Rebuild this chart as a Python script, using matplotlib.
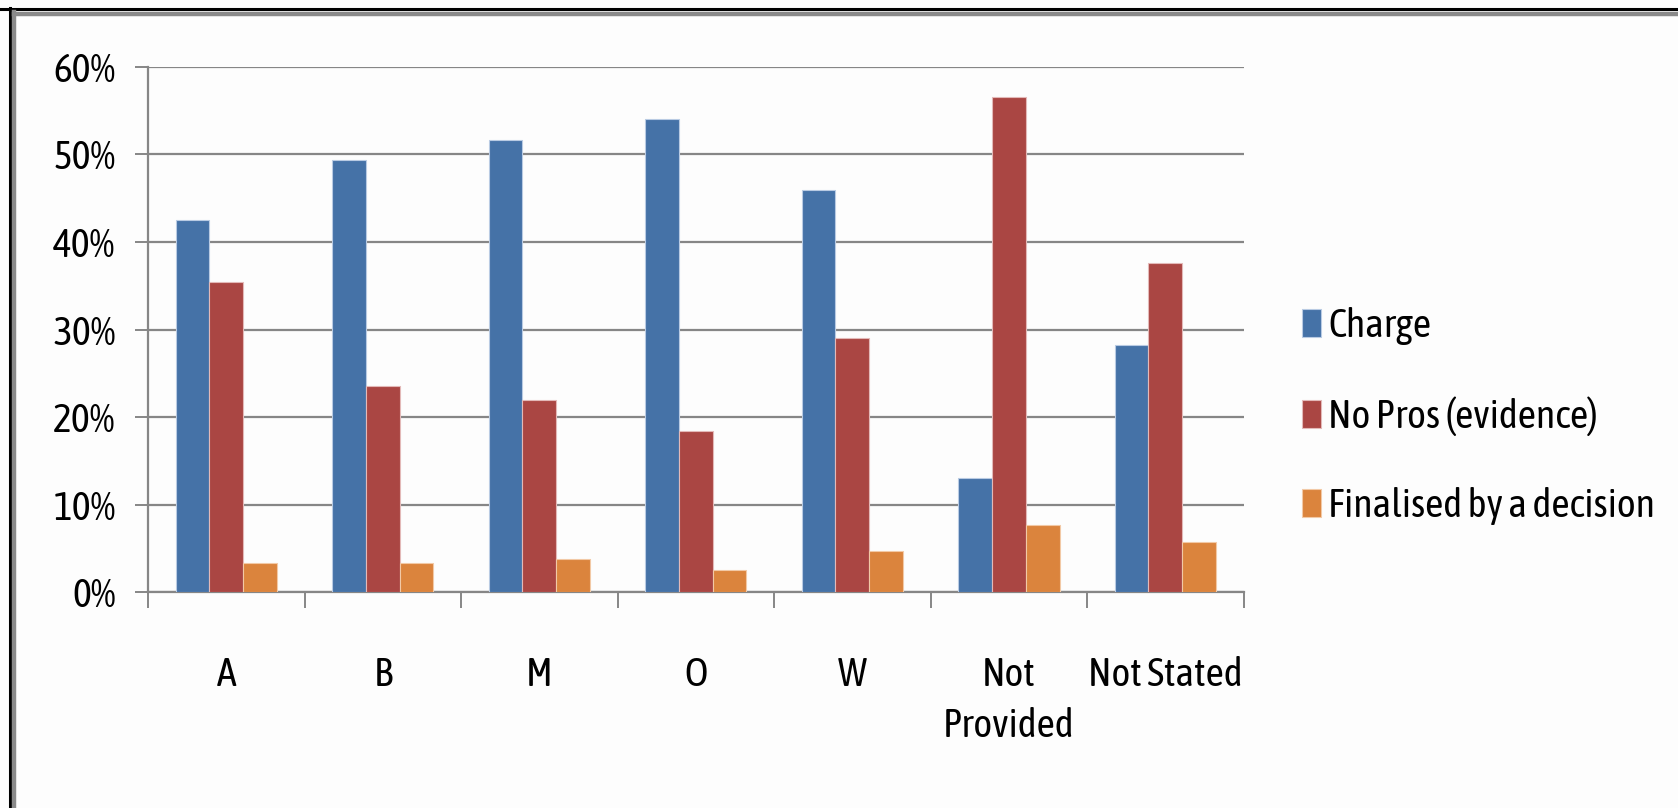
import matplotlib
matplotlib.use("Agg")
import matplotlib.pyplot as plt
from matplotlib import font_manager as fm
from matplotlib.font_manager import FontProperties
from matplotlib.textpath import TextPath
from matplotlib.lines import Line2D
from matplotlib.ticker import FuncFormatter, FixedLocator
import numpy as np

categories = ["A", "B", "M", "O", "W", "Not\nProvided", "Not Stated"]
charge = [0.425, 0.494, 0.516, 0.541, 0.459, 0.130, 0.282]
no_pros = [0.354, 0.235, 0.219, 0.184, 0.290, 0.566, 0.376]
finalised = [0.033, 0.033, 0.038, 0.025, 0.047, 0.077, 0.057]
series_names = ["Charge", "No Pros (evidence)", "Finalised by a decision"]
y_ticks = [0.0, 0.1, 0.2, 0.3, 0.4, 0.5, 0.6]

# choose a narrow face whose proportions suit tall, slim lettering
prefs = ["Fira Sans Extra Condensed", "Fira Sans Condensed", "PT Sans Narrow",
         "Open Sans Condensed", "Roboto Condensed", "Encode Sans Condensed",
         "Archivo Narrow", "Asap Condensed", "Ubuntu Condensed",
         "Barlow Semi Condensed", "Liberation Sans"]
avail = {f.name for f in fm.fontManager.ttflist}
target_w, target_cap = 322.0, 28.0


def metrics(name):
    prop = FontProperties(family=name)
    w = TextPath((0, 0), series_names[2], size=100, prop=prop).get_extents().width
    cap = TextPath((0, 0), "H", size=100, prop=prop).get_extents().height
    return w, cap


best = None
for name in prefs:
    if name not in avail:
        continue
    w, cap = metrics(name)
    err = abs(np.log((w / cap) / (target_w / target_cap)))
    if best is None or err < best[0]:
        best = (err, name, w, cap)
_, face, w100, cap100 = best
plt.rcParams["font.family"] = [face, "DejaVu Sans"]

# font size (pt at 100 dpi) balancing the width and cap height goals
s_w = target_w / w100 * 100
s_c = target_cap / cap100 * 100
fpx = np.sqrt(s_w * s_c)
fs = fpx * 72 / 100
lp_h = TextPath((0, 0), "lp", size=fpx, prop=FontProperties(family=face)).get_extents().height
line_sp = 54.6 / (lp_h * 1.0)

colors = ["#4572A7", "#AA4643", "#DB843D"]
edges = ["#b9cbe3", "#e3b9b8", "#f2c9a6"]
grid_col = "#868686"

fig = plt.figure(figsize=(16.78, 8.08), dpi=100, facecolor="#fdfdfd")
ax = fig.add_axes([0.0882, 0.2673, 0.6529, 0.6498])
ax.set_facecolor("#fdfdfd")

x = np.arange(len(categories))
w = 0.216
for i, (vals, name) in enumerate(zip([charge, no_pros, finalised], series_names)):
    ax.bar(x + (i - 1) * w, vals, width=w, color=colors[i], edgecolor=edges[i],
           linewidth=0.8, label=name, zorder=3)

ax.set_xlim(-0.5, len(categories) - 0.5)
ax.set_ylim(0, 0.6)
ax.set_yticks(y_ticks)
ax.yaxis.set_major_formatter(FuncFormatter(lambda v, p: f"{v*100:.0f}%"))
ax.yaxis.grid(True, color=grid_col, linewidth=1.6, zorder=0)
ax.set_axisbelow(True)

ax.set_xticks(x)
ax.set_xticklabels(categories, linespacing=line_sp)
ax.xaxis.set_minor_locator(FixedLocator(np.arange(-0.5, len(categories), 1.0)))
ax.tick_params(axis="x", which="major", length=0, pad=46, labelsize=fs)
ax.tick_params(axis="x", which="minor", length=11.5, width=1.4, color=grid_col, direction="out")
ax.tick_params(axis="y", length=9.4, width=1.4, color=grid_col, pad=14, labelsize=fs, direction="out")

for s in ["top", "right"]:
    ax.spines[s].set_visible(False)
for s in ["left", "bottom"]:
    ax.spines[s].set_color(grid_col)
    ax.spines[s].set_linewidth(1.6)

fig.legend(loc="center left", bbox_to_anchor=(0.776, 0.485), frameon=False,
           fontsize=fs, handlelength=19 / fpx, handleheight=28 / fpx,
           handletextpad=7 / fpx, labelspacing=(91 - fpx) / fpx, borderpad=0, borderaxespad=0)

# frame lines along top and left edges
fig.add_artist(Line2D([0, 1], [1 - 9 / 808, 1 - 9 / 808], transform=fig.transFigure,
                      color="black", linewidth=2.2))
fig.add_artist(Line2D([9.5 / 1678, 9.5 / 1678], [0, 1 - 8 / 808], transform=fig.transFigure,
                      color="black", linewidth=2.2))
fig.add_artist(Line2D([13.5 / 1678, 1], [1 - 13.5 / 808, 1 - 13.5 / 808], transform=fig.transFigure,
                      color="#8a8a8a", linewidth=3.2))
fig.add_artist(Line2D([13.5 / 1678, 13.5 / 1678], [0, 1 - 12 / 808], transform=fig.transFigure,
                      color="#8a8a8a", linewidth=3.2))

fig.savefig("out.png", dpi=100, facecolor=fig.get_facecolor())
